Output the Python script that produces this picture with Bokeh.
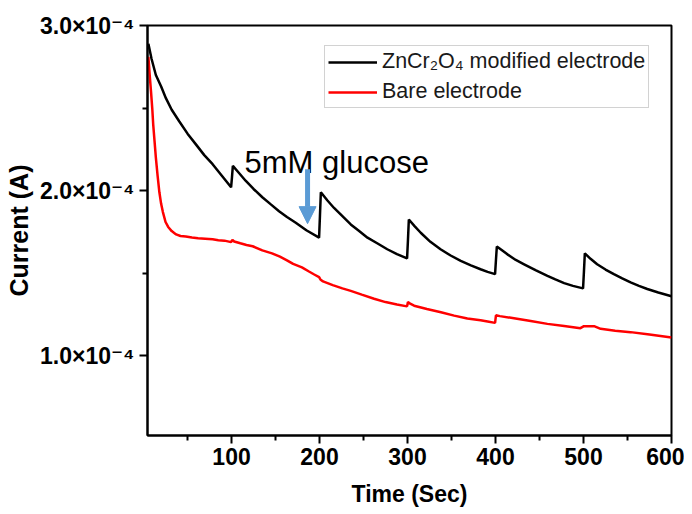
from bokeh.plotting import figure
from bokeh.models import (Range1d, FixedTicker, Legend, LegendItem, Arrow,
                          NormalHead)
from bokeh.core.properties import value
from bokeh.embed import file_html
from bokeh.resources import INLINE

# ---------------- data ----------------
mod_time = [5.5, 9, 14, 20, 25.4, 32, 40.5, 50, 59.5, 69, 78.5, 89, 99.5,
            100.5, 101.5, 108, 116, 125, 135, 145, 154, 163, 173, 185, 199.5,
            200.5, 201.5, 209, 216.5, 226, 235.5, 245, 254.5, 266, 277, 288, 299.5,
            300.5, 301.5, 308, 315, 326, 337.5, 349, 360.5, 372, 383, 391, 399.5,
            400.5, 401.5, 407, 413.5, 423, 432.5, 446, 459, 468, 478, 488, 499.5,
            500.5, 501.5, 508, 515.5, 525, 534.5, 544, 553.5, 563, 572.5, 585, 600]
mod_current = [2.89e-4, 2.80e-4, 2.70e-4, 2.63e-4, 2.56e-4, 2.49e-4, 2.42e-4, 2.345e-4,
               2.28e-4, 2.215e-4, 2.16e-4, 2.09e-4, 2.02e-4,
               2.08e-4, 2.15e-4, 2.11e-4, 2.06e-4, 2.01e-4, 1.96e-4, 1.915e-4, 1.875e-4,
               1.84e-4, 1.805e-4, 1.76e-4, 1.715e-4,
               1.85e-4, 1.99e-4, 1.94e-4, 1.895e-4, 1.845e-4, 1.795e-4, 1.755e-4, 1.715e-4,
               1.68e-4, 1.645e-4, 1.615e-4, 1.59e-4,
               1.70e-4, 1.825e-4, 1.785e-4, 1.745e-4, 1.69e-4, 1.645e-4, 1.607e-4, 1.574e-4,
               1.547e-4, 1.524e-4, 1.508e-4, 1.494e-4,
               1.58e-4, 1.661e-4, 1.64e-4, 1.614e-4, 1.58e-4, 1.554e-4, 1.517e-4, 1.484e-4,
               1.462e-4, 1.44e-4, 1.423e-4, 1.408e-4,
               1.51e-4, 1.62e-4, 1.587e-4, 1.554e-4, 1.522e-4, 1.494e-4, 1.468e-4, 1.444e-4,
               1.423e-4, 1.404e-4, 1.383e-4, 1.36e-4]

bare_time = [5.5, 7, 8.5, 10, 11, 12.5, 14, 16, 18, 20, 22, 25, 28, 32, 37, 42, 48, 55,
             62, 70, 78.5, 85, 92, 99.5, 101, 103, 110, 117, 124, 135, 146, 155, 163,
             170, 180, 188, 194, 199.5, 201, 204, 215, 226, 235.5, 248, 262, 275, 288,
             299.5, 300.5, 303, 307.5, 322, 338, 353, 368, 383, 391, 399.5, 400.5, 405,
             421, 440, 459, 478, 496.5, 500.5, 512, 519.5, 536, 553.5, 575, 600]
bare_current = [2.81e-4, 2.70e-4, 2.60e-4, 2.49e-4, 2.40e-4, 2.30e-4, 2.20e-4, 2.09e-4,
                1.99e-4, 1.92e-4, 1.87e-4, 1.81e-4, 1.78e-4, 1.755e-4, 1.735e-4, 1.725e-4,
                1.722e-4, 1.716e-4, 1.712e-4, 1.709e-4, 1.705e-4, 1.700e-4, 1.697e-4,
                1.688e-4, 1.702e-4, 1.692e-4, 1.681e-4, 1.671e-4, 1.663e-4, 1.638e-4,
                1.62e-4, 1.60e-4, 1.578e-4, 1.556e-4, 1.535e-4, 1.51e-4, 1.492e-4,
                1.476e-4, 1.462e-4, 1.450e-4, 1.428e-4, 1.408e-4, 1.393e-4, 1.37e-4,
                1.345e-4, 1.325e-4, 1.31e-4, 1.299e-4, 1.325e-4, 1.315e-4, 1.303e-4,
                1.283e-4, 1.263e-4, 1.243e-4, 1.225e-4, 1.215e-4, 1.208e-4, 1.199e-4,
                1.245e-4, 1.24e-4, 1.227e-4, 1.21e-4, 1.193e-4, 1.18e-4, 1.167e-4,
                1.179e-4, 1.179e-4, 1.163e-4, 1.152e-4, 1.143e-4, 1.128e-4, 1.11e-4]

x_ticks = [100, 200, 300, 400, 500, 600]
x_minor = [50, 150, 250, 350, 450, 550]
y_ticks = [1.0e-4, 2.0e-4, 3.0e-4]
y_minor = [1.5e-4, 2.5e-4]
y_tick_labels = ["1.0×10⁻⁴", "2.0×10⁻⁴", "3.0×10⁻⁴"]

series_names = ["ZnCr₂O₄ modified electrode", "Bare electrode"]
annotation_text = "5mM glucose"
annotation_x = [114.8]
annotation_y = [2.172e-4]
arrow_x = 186.4
arrow_y_start = 2.13e-4
arrow_y_end = 1.80e-4

FONT = "Liberation Sans"

p = figure(width=684, height=509, output_backend="svg", toolbar_location=None,
           x_range=Range1d(4.5, 600), y_range=Range1d(0.517e-4, 3.0e-4),
           min_border_left=147, min_border_right=13, min_border_top=25,
           min_border_bottom=73)
p.background_fill_color = "white"
p.border_fill_color = "white"
p.grid.visible = False
p.outline_line_color = "black"
p.outline_line_width = 2

r1 = p.line(mod_time, mod_current, line_color="black", line_width=2.5)
r2 = p.line(bare_time, bare_current, line_color="#ff0000", line_width=2.5)

# axes
p.xaxis.ticker = FixedTicker(ticks=x_ticks, minor_ticks=x_minor)
p.yaxis.ticker = FixedTicker(ticks=y_ticks, minor_ticks=y_minor)
p.yaxis.major_label_overrides = {t: lab for t, lab in zip(y_ticks, y_tick_labels)}
for ax in (p.xaxis[0], p.yaxis[0]):
    ax.axis_line_width = 2
    ax.axis_line_color = "black"
    ax.major_tick_line_width = 2
    ax.minor_tick_line_width = 2
    ax.major_tick_out = 8
    ax.major_tick_in = 0
    ax.minor_tick_out = 5
    ax.minor_tick_in = 0
    ax.major_label_text_font = "Liberation Sans, DejaVu Sans"
    ax.major_label_text_font_style = "bold"
    ax.major_label_text_font_size = "23px"
    ax.major_label_text_color = "black"
    ax.axis_label_text_font = FONT
    ax.axis_label_text_font_style = "bold"
    ax.axis_label_text_color = "black"
p.xaxis.axis_label = "Time (Sec)"
p.yaxis.axis_label = "Current (A)"
p.xaxis.axis_label_text_font_size = "23px"
p.yaxis.axis_label_text_font_size = "25px"
p.xaxis.major_label_standoff = 4
p.yaxis.major_label_standoff = 5
p.xaxis.axis_label_standoff = 13
p.yaxis.axis_label_standoff = 4

# annotation text and arrow
p.text(x=annotation_x, y=annotation_y, text=[annotation_text],
       text_font=value(FONT), text_font_size="31px", text_color="black",
       text_baseline="alphabetic", text_align="left")
p.add_layout(Arrow(end=NormalHead(size=17, fill_color="#5b9bd5", line_color="#5b9bd5"),
                   x_start=arrow_x, y_start=arrow_y_start,
                   x_end=arrow_x, y_end=arrow_y_end,
                   line_color="#5b9bd5", line_width=5))

legend = Legend(items=[LegendItem(label=series_names[0], renderers=[r1]),
                       LegendItem(label=series_names[1], renderers=[r2])],
                location=(177, 327))
legend.label_text_font = FONT
legend.label_text_font_size = "21.5px"
legend.label_text_color = "#1a1a1a"
legend.glyph_width = 49
legend.glyph_height = 20
legend.label_height = 20
legend.label_standoff = 5
legend.spacing = 5
legend.padding = 3
legend.border_line_color = "#a6a6a6"
legend.border_line_width = 1
legend.background_fill_alpha = 1.0
legend.margin = 0
p.add_layout(legend, "center")

open("out.html", "w").write(file_html(p, INLINE))
